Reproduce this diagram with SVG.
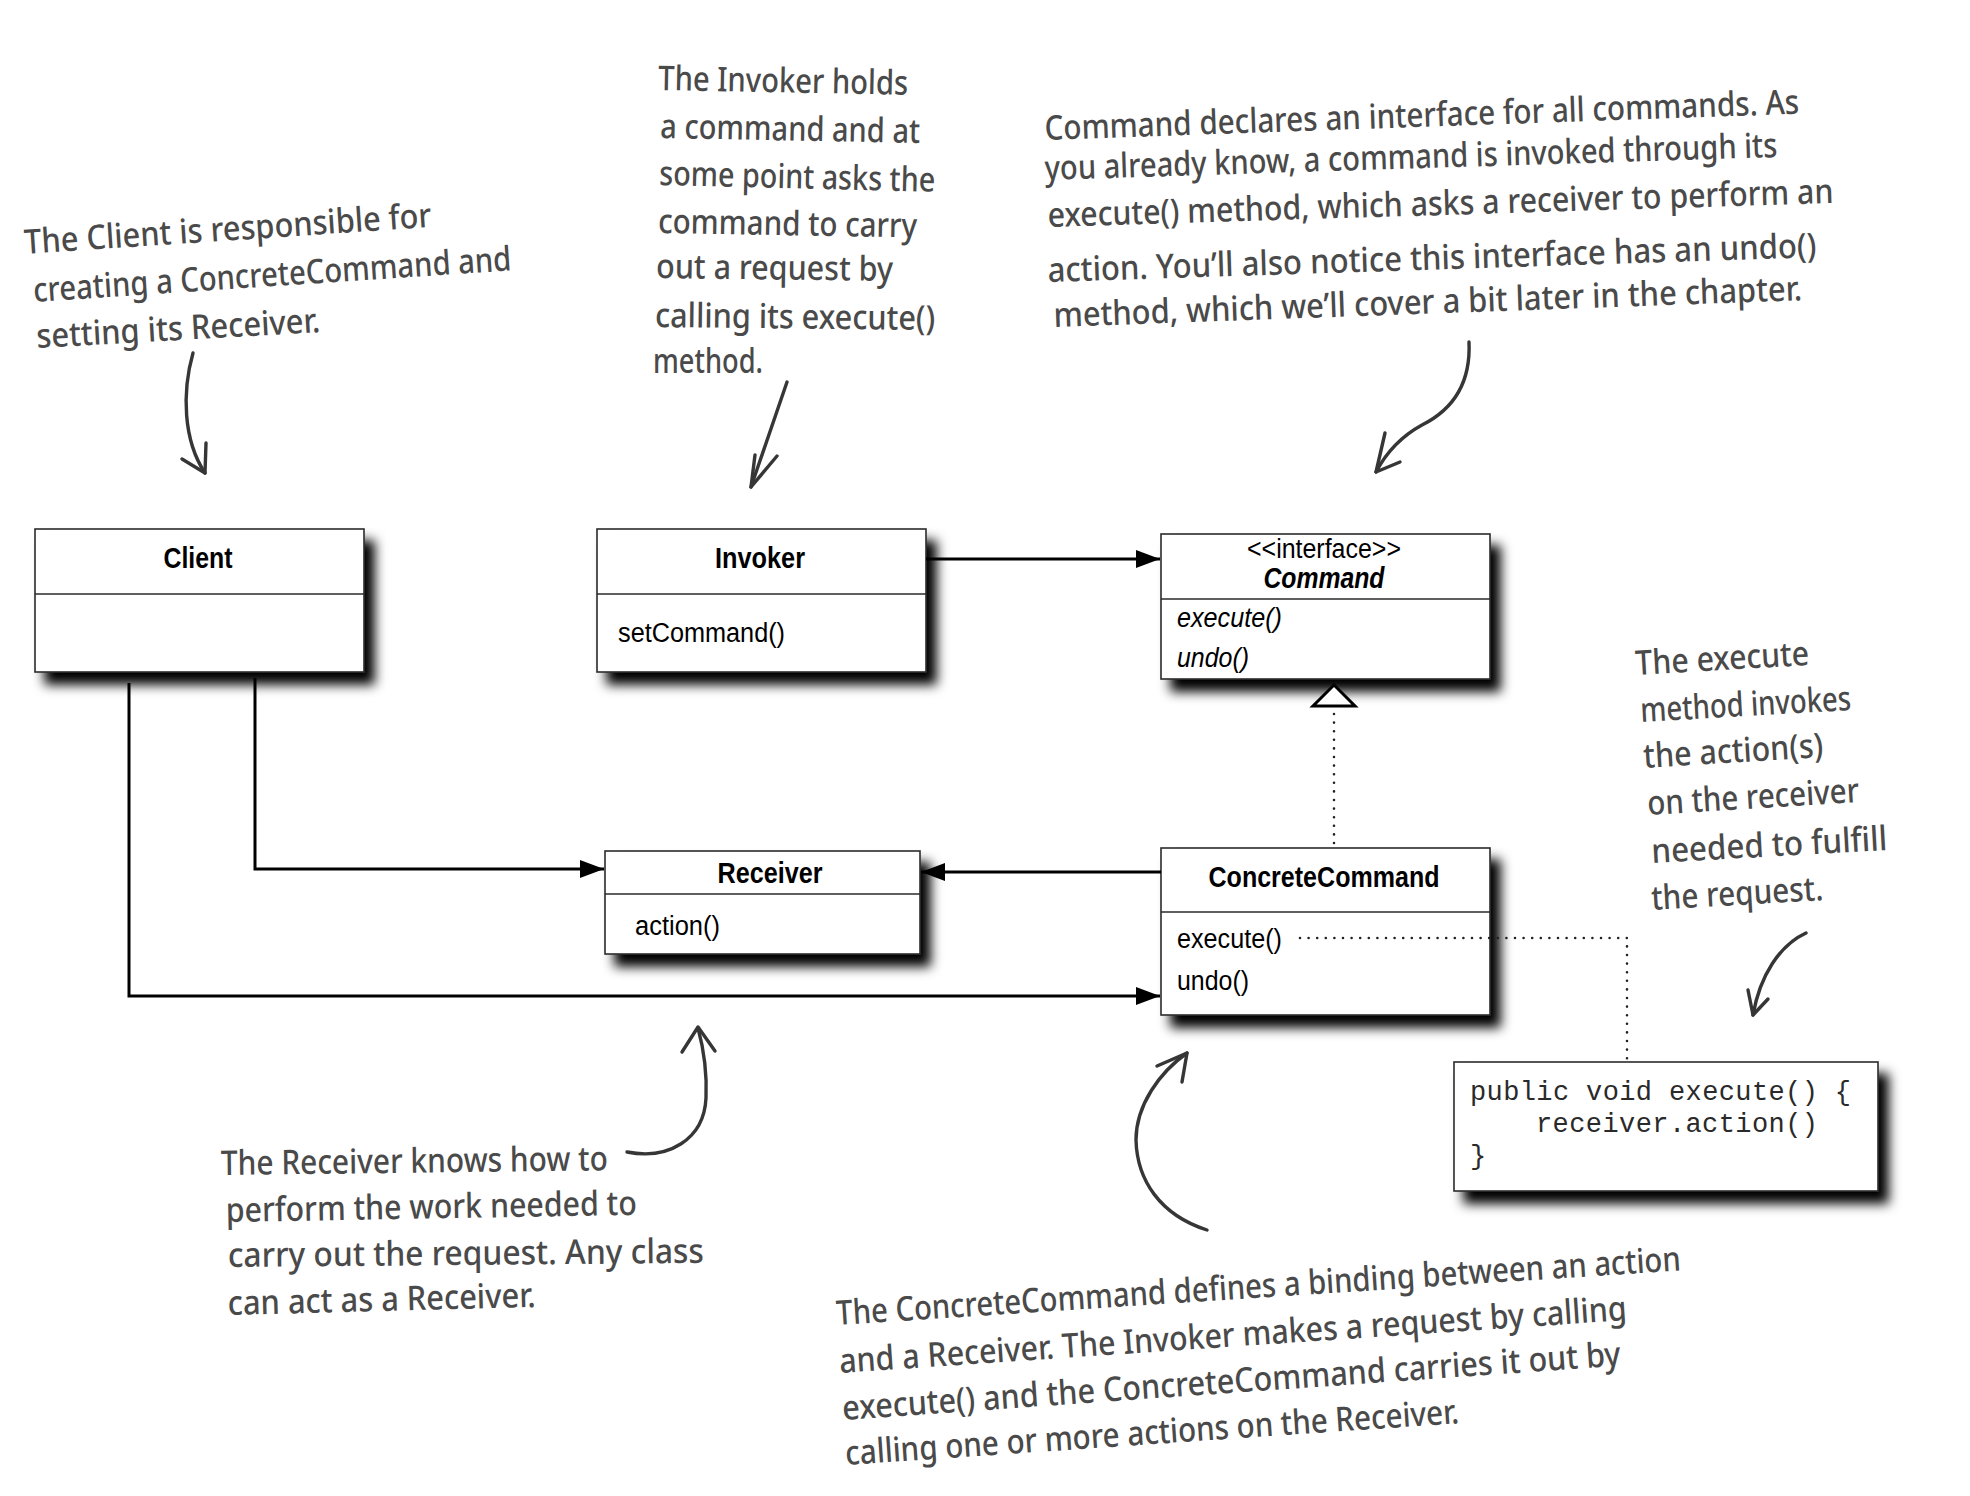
<svg xmlns="http://www.w3.org/2000/svg" width="1970" height="1496" viewBox="0 0 1970 1496">
  <style>
    .box { fill: #ffffff; stroke: #2a2a2a; stroke-width: 1.6; }
    .div { stroke: #2a2a2a; stroke-width: 1.6; }
    .ttl { font-family: "Liberation Sans", Arial, sans-serif; font-weight: bold; font-size: 29px; fill: #000; text-anchor: middle; }
    .mth { font-family: "Liberation Sans", Arial, sans-serif; font-size: 27px; fill: #000; }
    .ital { font-style: italic; }
    .code { font-family: "Liberation Mono", "Courier New", monospace; font-size: 27px; fill: #2a2a2a; }
    .wire { fill: none; stroke: #000; stroke-width: 3; }
    .dots { fill: none; stroke: #222; stroke-width: 2.6; stroke-linecap: round; stroke-dasharray: 0 8.6; }
    .note { font-family: "Noto Sans", "DejaVu Sans", sans-serif; font-size: 34px; font-weight: 500; fill: #4a4a4a; }
    .pen { fill: none; stroke: #363636; stroke-width: 3.4; stroke-linecap: round; stroke-linejoin: round; }
  </style>
  <defs>
    <filter id="shadow" x="-10%" y="-15%" width="135%" height="160%">
      <feGaussianBlur in="SourceAlpha" stdDeviation="6"/>
      <feOffset dx="10" dy="12" result="blur"/>
      <feComponentTransfer><feFuncA type="linear" slope="1"/></feComponentTransfer>
      <feMerge><feMergeNode/><feMergeNode in="SourceGraphic"/></feMerge>
    </filter>
    <marker id="arrow" markerUnits="userSpaceOnUse" markerWidth="26" markerHeight="20" refX="24" refY="9" orient="auto">
      <path d="M0,0 L24,9 L0,18 z" fill="#000"/>
    </marker>
  </defs>

  <rect width="1970" height="1496" fill="#ffffff"/>

  <!-- class boxes -->
  <g id="client">
    <rect class="box" x="35" y="529" width="329" height="143" filter="url(#shadow)"/>
    <line class="div" x1="35" y1="594" x2="364" y2="594"/>
    <text class="ttl" x="198" y="568" textLength="69" lengthAdjust="spacingAndGlyphs">Client</text>
  </g>

  <g id="invoker">
    <rect class="box" x="597" y="529" width="329" height="143" filter="url(#shadow)"/>
    <line class="div" x1="597" y1="594" x2="926" y2="594"/>
    <text class="ttl" x="760" y="568" textLength="90" lengthAdjust="spacingAndGlyphs">Invoker</text>
    <text class="mth" x="618" y="642" textLength="167" lengthAdjust="spacingAndGlyphs">setCommand()</text>
  </g>

  <g id="command">
    <rect class="box" x="1161" y="534" width="329" height="145" filter="url(#shadow)"/>
    <line class="div" x1="1161" y1="599" x2="1490" y2="599"/>
    <text class="mth" x="1324" y="558" font-size="24" text-anchor="middle" textLength="154" lengthAdjust="spacingAndGlyphs">&lt;&lt;interface&gt;&gt;</text>
    <text class="ttl ital" x="1324" y="588" font-size="28" textLength="121" lengthAdjust="spacingAndGlyphs">Command</text>
    <text class="mth ital" x="1177" y="627" textLength="105" lengthAdjust="spacingAndGlyphs">execute()</text>
    <text class="mth ital" x="1177" y="667" textLength="72" lengthAdjust="spacingAndGlyphs">undo()</text>
  </g>

  <g id="receiver">
    <rect class="box" x="605" y="851" width="315" height="103" filter="url(#shadow)"/>
    <line class="div" x1="605" y1="894" x2="920" y2="894"/>
    <text class="ttl" x="770" y="883" textLength="105" lengthAdjust="spacingAndGlyphs">Receiver</text>
    <text class="mth" x="635" y="935" textLength="85" lengthAdjust="spacingAndGlyphs">action()</text>
  </g>

  <g id="concrete-command">
    <rect class="box" x="1161" y="848" width="329" height="167" filter="url(#shadow)"/>
    <line class="div" x1="1161" y1="912" x2="1490" y2="912"/>
    <text class="ttl" x="1324" y="887" textLength="231" lengthAdjust="spacingAndGlyphs">ConcreteCommand</text>
    <text class="mth" x="1177" y="948" textLength="105" lengthAdjust="spacingAndGlyphs">execute()</text>
    <text class="mth" x="1177" y="990" textLength="72" lengthAdjust="spacingAndGlyphs">undo()</text>
  </g>

  <g id="execute-code">
    <rect class="box" x="1454" y="1062" width="424" height="129" filter="url(#shadow)"/>
    <text class="code" x="1470" y="1100" textLength="381" lengthAdjust="spacing">public void execute() {</text>
    <text class="code" x="1536" y="1132" textLength="282" lengthAdjust="spacing">receiver.action()</text>
    <text class="code" x="1470" y="1164">}</text>
  </g>

  <!-- connectors, drawn over the boxes -->
  <g id="connectors">
    <line class="wire" x1="926" y1="559" x2="1160" y2="559" marker-end="url(#arrow)"/>
    <polyline class="wire" points="255,678 255,869 604,869" marker-end="url(#arrow)"/>
    <polyline class="wire" points="129,683 129,996 1160,996" marker-end="url(#arrow)"/>
    <line class="wire" x1="1161" y1="872" x2="921" y2="872" marker-end="url(#arrow)"/>
    <line class="dots" x1="1334" y1="843" x2="1334" y2="710"/>
    <path d="M1334,685 L1355,706 L1313,706 z" fill="#fff" stroke="#000" stroke-width="3" stroke-linejoin="miter"/>
    <polyline class="dots" points="1300,938 1627,938 1627,1060"/>
  </g>

  <!-- handwritten notes -->
  <g id="note-client">
    <text class="note" x="25" y="254" transform="rotate(-3.8 25 254)" textLength="408" lengthAdjust="spacingAndGlyphs">The Client is responsible for</text>
    <text class="note" x="34" y="302" transform="rotate(-3.8 34 302)" textLength="479" lengthAdjust="spacingAndGlyphs">creating a ConcreteCommand and</text>
    <text class="note" x="37" y="348" transform="rotate(-3.2 37 348)" textLength="284" lengthAdjust="spacingAndGlyphs">setting its Receiver.</text>
    <path class="pen" d="M193,353 C182,392 183,440 205,473"/>
    <path class="pen" d="M182,459 L205,473 L206,443"/>
  </g>

  <g id="note-invoker">
    <text class="note" x="658" y="90" transform="rotate(1.1 658 90)" textLength="250" lengthAdjust="spacingAndGlyphs">The Invoker holds</text>
    <text class="note" x="660" y="138" transform="rotate(1.1 660 138)" textLength="260" lengthAdjust="spacingAndGlyphs">a command and at</text>
    <text class="note" x="659" y="185" transform="rotate(1.4 659 185)" textLength="276" lengthAdjust="spacingAndGlyphs">some point asks the</text>
    <text class="note" x="658" y="233" transform="rotate(1 658 233)" textLength="259" lengthAdjust="spacingAndGlyphs">command to carry</text>
    <text class="note" x="656" y="278" transform="rotate(0.7 656 278)" textLength="237" lengthAdjust="spacingAndGlyphs">out a request by</text>
    <text class="note" x="655" y="327" transform="rotate(0.6 655 327)" textLength="280" lengthAdjust="spacingAndGlyphs">calling its execute()</text>
    <text class="note" x="653" y="373" textLength="110" lengthAdjust="spacingAndGlyphs">method.</text>
    <path class="pen" d="M787,382 L751,487"/>
    <path class="pen" d="M755,455 L751,487 L777,456"/>
  </g>

  <g id="note-command">
    <text class="note" x="1045" y="140" transform="rotate(-2 1045 140)" textLength="755" lengthAdjust="spacingAndGlyphs">Command declares an interface for all commands. As</text>
    <text class="note" x="1045" y="180" transform="rotate(-1.8 1045 180)" textLength="733" lengthAdjust="spacingAndGlyphs">you already know, a command is invoked through its</text>
    <text class="note" x="1048" y="227" transform="rotate(-1.75 1048 227)" textLength="786" lengthAdjust="spacingAndGlyphs">execute() method, which asks a receiver to perform an</text>
    <text class="note" x="1048" y="282" transform="rotate(-1.85 1048 282)" textLength="769" lengthAdjust="spacingAndGlyphs">action.  You’ll also notice this interface has an undo()</text>
    <text class="note" x="1054" y="327" transform="rotate(-2.05 1054 327)" textLength="749" lengthAdjust="spacingAndGlyphs">method, which we’ll cover a bit later in the chapter.</text>
    <path class="pen" d="M1469,342 C1471,385 1452,410 1422,425 C1400,437 1385,455 1376,472"/>
    <path class="pen" d="M1385,433 L1376,472 L1400,462"/>
  </g>

  <g id="note-execute">
    <text class="note" x="1636" y="675" transform="rotate(-3.3 1636 675)" textLength="174" lengthAdjust="spacingAndGlyphs">The execute</text>
    <text class="note" x="1641" y="722" transform="rotate(-3.25 1641 722)" textLength="211" lengthAdjust="spacingAndGlyphs">method invokes</text>
    <text class="note" x="1644" y="768" transform="rotate(-3.5 1644 768)" textLength="180" lengthAdjust="spacingAndGlyphs">the action(s)</text>
    <text class="note" x="1648" y="815" transform="rotate(-3.5 1648 815)" textLength="212" lengthAdjust="spacingAndGlyphs">on the receiver</text>
    <text class="note" x="1652" y="863" transform="rotate(-3.15 1652 863)" textLength="236" lengthAdjust="spacingAndGlyphs">needed to fulfill</text>
    <text class="note" x="1652" y="910" transform="rotate(-3.3 1652 910)" textLength="172" lengthAdjust="spacingAndGlyphs">the request.</text>
    <path class="pen" d="M1806,933 C1780,945 1760,975 1753,1015"/>
    <path class="pen" d="M1748,990 L1753,1015 L1768,999"/>
  </g>

  <g id="note-receiver">
    <text class="note" x="221" y="1175" transform="rotate(-0.7 221 1175)" textLength="387" lengthAdjust="spacingAndGlyphs">The Receiver knows how to</text>
    <text class="note" x="226" y="1222" transform="rotate(-1 226 1222)" textLength="411" lengthAdjust="spacingAndGlyphs">perform the work needed to</text>
    <text class="note" x="228" y="1267" transform="rotate(-0.5 228 1267)" textLength="476" lengthAdjust="spacingAndGlyphs">carry out the request.  Any class</text>
    <text class="note" x="228" y="1315" transform="rotate(-1.5 228 1315)" textLength="308" lengthAdjust="spacingAndGlyphs">can act as a Receiver.</text>
    <path class="pen" d="M627,1152 C668,1160 704,1140 706,1098 C707,1075 704,1050 698,1028"/>
    <path class="pen" d="M682,1052 L698,1027 L715,1051"/>
  </g>

  <g id="note-concrete-command">
    <text class="note" x="837" y="1325" transform="rotate(-3.7 837 1325)" textLength="846" lengthAdjust="spacingAndGlyphs">The ConcreteCommand defines a binding between an action</text>
    <text class="note" x="840" y="1373" transform="rotate(-3.85 840 1373)" textLength="789" lengthAdjust="spacingAndGlyphs">and a Receiver.  The Invoker makes a request by calling</text>
    <text class="note" x="843" y="1420" transform="rotate(-4 843 1420)" textLength="780" lengthAdjust="spacingAndGlyphs">execute() and the ConcreteCommand carries it out by</text>
    <text class="note" x="846" y="1465" transform="rotate(-3.9 846 1465)" textLength="615" lengthAdjust="spacingAndGlyphs">calling one or more actions on the Receiver.</text>
    <path class="pen" d="M1207,1230 C1160,1215 1137,1180 1136,1140 C1136,1105 1160,1072 1187,1053"/>
    <path class="pen" d="M1157,1066 L1187,1053 L1182,1082"/>
  </g>
</svg>
